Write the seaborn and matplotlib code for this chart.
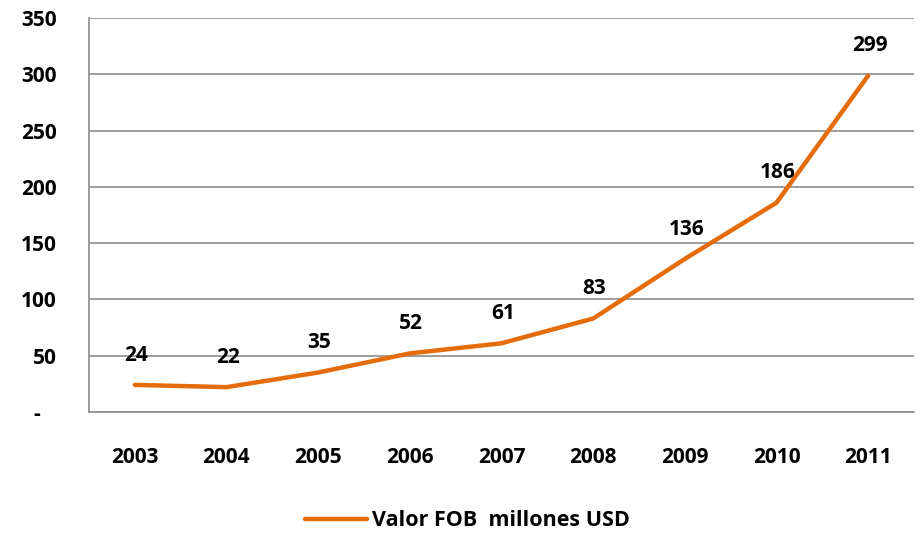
import matplotlib
matplotlib.use('Agg')
import matplotlib.pyplot as plt
import seaborn as sns
import pandas as pd
from matplotlib.ticker import FixedLocator

# datos
years = ['2003', '2004', '2005', '2006', '2007', '2008', '2009', '2010', '2011']
valor_fob = [24, 22, 35, 52, 61, 83, 136, 186, 299]
y_ticks = [0, 50, 100, 150, 200, 250, 300, 350]
y_labels = ['-   ', '50', '100', '150', '200', '250', '300', '350']
serie = 'Valor FOB  millones USD'

df = pd.DataFrame({'year': years, 'valor': valor_fob})

sns.set_style('white')
plt.rcParams['font.family'] = ['Open Sans', 'DejaVu Sans']
plt.rcParams['text.color'] = 'black'

fig = plt.figure(figsize=(9.2, 5.37), dpi=100)
ax = fig.add_axes([0.0967, 0.233, 0.8968, 0.733])

orange = '#E46C0A'
grid = '#8C8C8C'
fs = 15
pos = list(range(len(years)))
sns.lineplot(x=pos, y=df['valor'], ax=ax, color=orange, linewidth=3.2, label=serie,
             legend=False)

# etiquetas de datos
for i, v in enumerate(valor_fob):
    ax.annotate(str(v), (i, v), xytext=(1, 21.5), textcoords='offset points',
                ha='center', va='center', fontsize=fs, fontweight='bold', color='black')

ax.set_xlim(-0.5, len(years) - 0.5)
ax.set_ylim(0, 350)

# eje y
ax.set_yticks(y_ticks)
ax.set_yticklabels(y_labels, fontsize=fs, fontweight='bold')
ax.yaxis.grid(True, color=grid, linewidth=1.2)
ax.tick_params(axis='y', which='major', length=5, width=1.2, color=grid, pad=18,
               labelcolor='black')

# eje x: marcas entre categorias, etiquetas al centro
ax.xaxis.set_major_locator(FixedLocator([p - 0.5 for p in pos] + [len(years) - 0.5]))
ax.xaxis.set_minor_locator(FixedLocator(pos))
ax.set_xticklabels([], minor=False)
ax.set_xticklabels(years, minor=True, fontsize=fs, fontweight='bold')
ax.tick_params(axis='x', which='major', length=6, width=1.2, color=grid, direction='out')
ax.tick_params(axis='x', which='minor', length=0, pad=25, labelcolor='black')
ax.set_xlabel('')
ax.set_ylabel('')

for s in ['top', 'right']:
    ax.spines[s].set_visible(False)
for s in ['left', 'bottom']:
    ax.spines[s].set_color(grid)
    ax.spines[s].set_linewidth(1.2)

handles, labels = ax.get_legend_handles_labels()
leg = fig.legend(handles, labels, loc='center', bbox_to_anchor=(0.508, 0.03),
                 frameon=False, prop={'size': 15.5, 'weight': 'bold'}, handlelength=2.9,
                 handletextpad=0.2)
for t in leg.get_texts():
    t.set_color('black')

fig.savefig('out.png', dpi=100)
